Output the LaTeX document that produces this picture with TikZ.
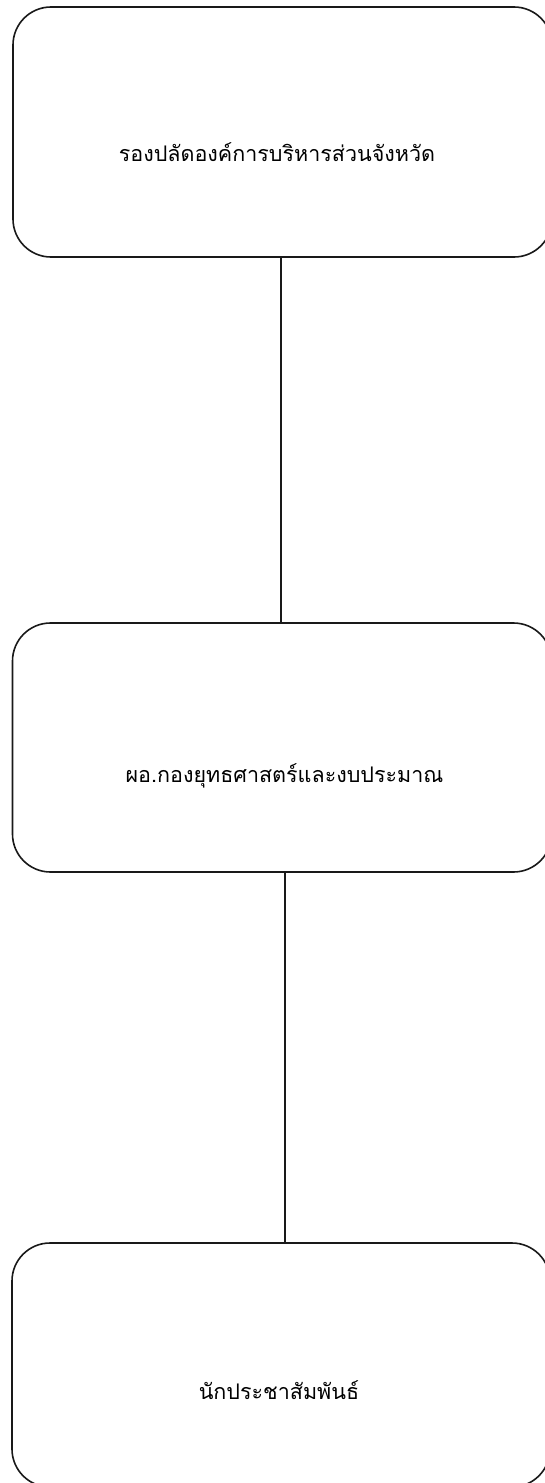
\documentclass[tikz,border=0pt]{standalone}
\usepackage{fontspec}
\newfontfamily\thaifont[Script=Thai]{Loma}
\begin{document}
\begin{tikzpicture}[x=1pt,y=-1pt,
  orgbox/.style={draw=black!90, line width=1.6pt, rounded corners=38pt, minimum width=539pt, inner sep=0pt},
  orgtext/.style={font=\thaifont\fontsize{21.5pt}{26pt}\selectfont, inner sep=0pt, anchor=base},
  link/.style={draw=black!90, line width=1.4pt}]
\useasboundingbox (0,0) rectangle (544,1483);
\node[orgbox, minimum height=250pt] (b1) at (282.5,132) {};
\node[orgbox, minimum height=249pt] (b2) at (282,747.5) {};
\node[orgbox, minimum height=244pt, minimum width=538pt] (b3) at (281,1365) {};
\node[orgtext] (t1) at (277,161) {รองปลัดองค์การบริหารส่วนจังหวัด};
\node[orgtext] (t2) at (284.5,782) {ผอ.กองยุทธศาสตร์และงบประมาณ};
\node[orgtext] (t3) at (279,1399) {นักประชาสัมพันธ์};
\coordinate (c1) at (281,0);
\coordinate (c2) at (285,0);
\draw[link] (c1 |- b1.south) -- (c1 |- b2.north);
\draw[link] (c2 |- b2.south) -- (c2 |- b3.north);
\end{tikzpicture}
\end{document}
